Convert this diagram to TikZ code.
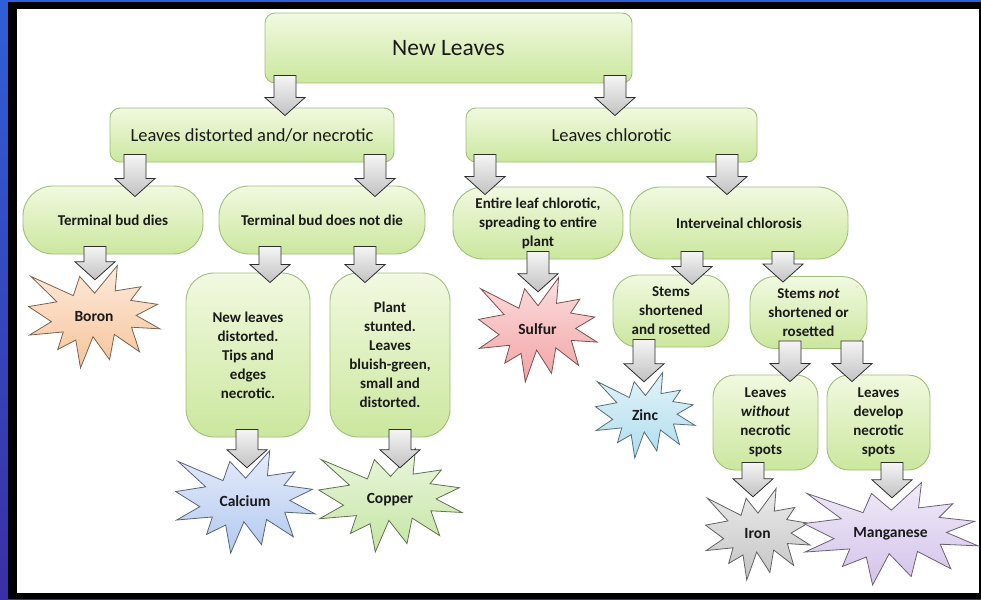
\documentclass[tikz,border=0pt]{standalone}
\usepackage{fontspec}
\setmainfont{Carlito}
\usetikzlibrary{calc}
\definecolor{boxtop}{HTML}{F1F9E0}
\definecolor{boxbot}{HTML}{CBE79E}
\definecolor{boxline}{HTML}{A2BE7C}
\definecolor{txt}{HTML}{1A1A1A}
\definecolor{boronc}{HTML}{F7C49A}
\definecolor{sulfurc}{HTML}{F3A2A4}
\definecolor{calciumc}{HTML}{B3C9F0}
\definecolor{copperc}{HTML}{C4E5A2}
\definecolor{zincc}{HTML}{AEDDEE}
\definecolor{ironc}{HTML}{C4C4C4}
\definecolor{manganc}{HTML}{D3C3EA}
\definecolor{frameblue}{HTML}{2F5FD8}
\definecolor{frameblue2}{HTML}{3A2FA8}
\tikzset{
  gbox/.style={draw=boxline, line width=0.9pt, top color=boxtop, bottom color=boxbot,
    align=center, text=txt, inner sep=2pt},
  bigfont/.style={font=\fontsize{23.5}{27}\selectfont},
  midfont/.style={font=\fontsize{18.5}{22}\selectfont},
  smallfont/.style={font=\fontsize{15}{19}\selectfont\bfseries},
  startext/.style={align=center, text=txt, inner sep=0pt, font=\fontsize{15.5}{18}\selectfont\bfseries},
  blockarr/.style={draw=gray!35!black, line width=0.8pt, top color=gray!8, bottom color=gray!48, line join=miter},
}
\newcommand\explo[7]{%
  \begin{scope}[shift={(#2-#4/2,#3-#5/2)}, xscale=#4/216, yscale=#5/216]
    \draw[line width=0.8pt, top color=#6!35!white, bottom color=#6, draw=#6!50!black, line join=miter]
      (109.01,59.05) -- (84.58,23.99) -- (74.17,64.25) -- (4.76,23.99) -- (47.32,77.22)
      -- (1.06,87.18) -- (38.28,118.80) -- (2.43,146.89) -- (57.72,140.41) -- (48.68,177.19)
      -- (78.19,157.30) -- (85.90,216.00) -- (106.37,150.38) -- (133.49,198.40) -- (141.25,145.61)
      -- (182.48,181.95) -- (169.38,130.44) -- (216.00,133.93) -- (177.10,105.79) -- (211.98,82.42)
      -- (168.06,74.17) -- (184.82,45.60) -- (142.57,54.29) -- (146.23,1.06) -- cycle;
  \end{scope}
  \node[startext, minimum width=#4pt, minimum height=#5pt] (#1) at (#2,#3) {#7};
}
\newcommand\barrow[4]{%
  \path (#3,0) coordinate (ax);
  \path (#1.south -| ax) coordinate (as);
  \path (#2.north -| ax) coordinate (at0);
  \path ([yshift=-#4pt]at0) coordinate (at);
  \draw[blockarr] ([shift={(-11pt,8pt)}]as) -- ([shift={(11pt,8pt)}]as)
    -- ([shift={(11pt,18pt)}]at) -- ([shift={(20pt,18pt)}]at) -- (at)
    -- ([shift={(-20pt,18pt)}]at) -- ([shift={(-11pt,18pt)}]at) -- cycle;
}
\begin{document}
\begin{tikzpicture}[x=1pt, y=-1pt]
\useasboundingbox (0,0) rectangle (981,599);
% frame
\shade[top color=frameblue, bottom color=frameblue2] (0,0) rectangle (981,599);
\fill[black] (8,2) rectangle (981,599);
\fill[white] (17,9) rectangle (979,593);

% boxes
\node[gbox, bigfont, rounded corners=10pt, minimum width=367pt, minimum height=70pt] (nl) at (448.5,48) {New Leaves};
\node[gbox, midfont, rounded corners=10pt, minimum width=284pt, minimum height=54pt] (ld) at (252,135) {Leaves distorted and/or necrotic};
\node[gbox, midfont, rounded corners=10pt, minimum width=291pt, minimum height=54pt] (lc) at (611.5,135) {Leaves chlorotic};

\node[gbox, smallfont, rounded corners=30pt, minimum width=180pt, minimum height=68pt] (tbd) at (113,220) {Terminal bud dies};
\node[gbox, smallfont, rounded corners=30pt, minimum width=206pt, minimum height=68pt] (tbdn) at (322,220) {Terminal bud does not die};
\node[gbox, smallfont, rounded corners=30pt, minimum width=170pt, minimum height=72pt] (ent) at (538,223) {Entire leaf chlorotic,\\ spreading to entire\\ plant};
\node[gbox, smallfont, rounded corners=30pt, minimum width=218pt, minimum height=72pt] (ivc) at (739,223) {Interveinal chlorosis};

\node[gbox, smallfont, rounded corners=28pt, minimum width=124pt, minimum height=164pt] (nld) at (248,355) {New leaves\\ distorted.\\ Tips and\\ edges\\ necrotic.};
\node[gbox, smallfont, rounded corners=28pt, minimum width=120pt, minimum height=164pt] (ps) at (390,355) {Plant\\ stunted.\\ Leaves\\ bluish-green,\\ small and\\ distorted.};

\node[gbox, smallfont, rounded corners=25pt, minimum width=116pt, minimum height=72pt] (ss) at (671,311) {Stems\\ shortened\\ and rosetted};
\node[gbox, smallfont, rounded corners=25pt, minimum width=117pt, minimum height=72pt] (sn) at (808.5,312.5) {Stems \textit{not}\\ shortened or\\ rosetted};
\node[gbox, smallfont, rounded corners=22pt, minimum width=105pt, minimum height=95pt] (lw) at (765.5,422.5) {Leaves\\ \textit{without}\\ necrotic\\ spots};
\node[gbox, smallfont, rounded corners=22pt, minimum width=103pt, minimum height=95pt] (lde) at (878.5,422.5) {Leaves\\ develop\\ necrotic\\ spots};

% explosions
\explo{boron}{94}{316.5}{132}{103}{boronc}{Boron}
\explo{sulfur}{537.5}{329.5}{119}{105}{sulfurc}{Sulfur}
\explo{calcium}{245}{501.5}{140}{103}{calciumc}{Calcium}
\explo{copper}{390}{500}{144}{104}{copperc}{Copper}
\explo{zinc}{645}{415}{100}{86}{zincc}{Zinc}
\explo{iron}{757.5}{534}{105}{92}{ironc}{Iron}
\explo{mangan}{890.5}{533.5}{175}{103}{manganc}{Manganese}

% arrows
\barrow{nl}{ld}{285}{8}
\barrow{nl}{lc}{615}{8}
\barrow{ld}{tbd}{135}{11}
\barrow{ld}{tbdn}{375}{11}
\barrow{lc}{ent}{485}{8}
\barrow{lc}{ivc}{727}{8}
\barrow{tbd}{boron}{95}{15}
\barrow{tbdn}{nld}{270}{10}
\barrow{tbdn}{ps}{365}{10}
\barrow{ent}{sulfur}{538}{15}
\barrow{ivc}{ss}{692}{10}
\barrow{ivc}{sn}{783}{6}
\barrow{ss}{zinc}{644}{10}
\barrow{sn}{lw}{790}{7}
\barrow{sn}{lde}{852}{7}
\barrow{nld}{calcium}{247}{18}
\barrow{ps}{copper}{400}{20}
\barrow{lw}{iron}{753}{9}
\barrow{lde}{mangan}{892}{16}
\end{tikzpicture}
\end{document}
